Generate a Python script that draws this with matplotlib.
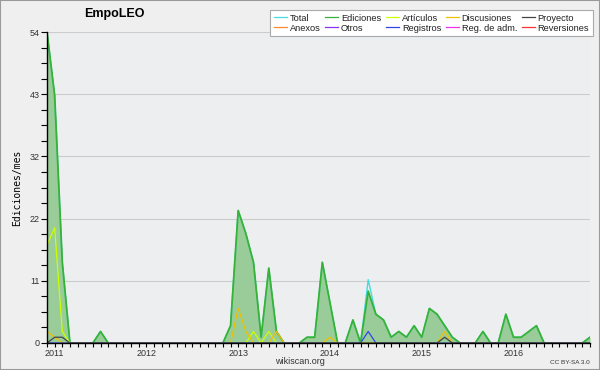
import matplotlib
matplotlib.use("Agg")
import matplotlib.pyplot as plt
from matplotlib.patches import Rectangle
import numpy as np

# monthly values, Jan 2011 .. Dec 2016
ediciones = [54, 43, 14, 0, 0, 0, 0, 2, 0, 0, 0, 0,      # 2011
             0, 0, 0, 0, 0, 0, 0, 0, 0, 0, 0, 0,         # 2012
             3, 23, 19, 14, 1, 13, 2, 0, 0, 0, 1, 1,     # 2013
             14, 7, 0, 0, 4, 0, 9, 5, 4, 1, 2, 1,        # 2014
             3, 1, 6, 5, 3, 1, 0, 0, 0, 2, 0, 0,         # 2015
             5, 1, 1, 2, 3, 0, 0, 0, 0, 0, 0, 1]         # 2016
articulos = [17, 20, 2, 0, 0, 0, 0, 0, 0, 0, 0, 0,
             0, 0, 0, 0, 0, 0, 0, 0, 0, 0, 0, 0,
             0, 0, 0, 2, 0, 2, 0, 0, 0, 0, 0, 0,
             0, 0, 0, 0, 0, 0, 0, 0, 0, 0, 0, 0,
             0, 0, 0, 0, 0, 0, 0, 0, 0, 0, 0, 0,
             0, 0, 0, 0, 0, 0, 0, 0, 0, 0, 0, 0]
discusiones = [2, 1, 0, 0, 0, 0, 0, 0, 0, 0, 0, 0,
               0, 0, 0, 0, 0, 0, 0, 0, 0, 0, 0, 0,
               0, 6, 2, 0, 0, 0, 2, 0, 0, 0, 0, 0,
               0, 1, 0, 0, 0, 0, 0, 0, 0, 0, 0, 0,
               0, 0, 0, 0, 2, 0, 0, 0, 0, 0, 0, 0,
               0, 0, 0, 0, 0, 0, 0, 0, 0, 0, 0, 0]
proyecto = [0, 1, 1, 0, 0, 0, 0, 0, 0, 0, 0, 0,
            0, 0, 0, 0, 0, 0, 0, 0, 0, 0, 0, 0,
            0, 0, 0, 0, 0, 0, 0, 0, 0, 0, 0, 0,
            0, 0, 0, 0, 0, 0, 0, 0, 0, 0, 0, 0,
            0, 0, 0, 0, 1, 0, 0, 0, 0, 0, 0, 0,
            0, 0, 0, 0, 0, 0, 0, 0, 0, 0, 0, 0]
registros = [0] * 42 + [2] + [0] * 29
zeros = [0] * 72
years = ["2011", "2012", "2013", "2014", "2015", "2016"]
yticks = [0, 11, 22, 32, 43, 54]

total = np.array(ediciones) + np.array(registros)
x = np.arange(len(ediciones))

plt.rcParams["font.family"] = "Liberation Sans"

fig = plt.figure(figsize=(6, 3.7), dpi=100, facecolor="#efefef")
ax = fig.add_axes([47 / 600, 1 - 343 / 370, 543 / 600, 311 / 370])
ax.set_facecolor("#edeef0")

ax.plot(x, total, color="#44dddd", lw=1.0, label="Total", zorder=3)
ax.fill_between(x, ediciones, color="#99cc99", lw=0, zorder=2)
ax.plot(x, ediciones, color="#36b336", lw=1.3, label="Ediciones", zorder=4)
ax.plot(x, articulos, color="#ccff00", lw=0.9, label="Artículos", zorder=5)
ax.plot(x, discusiones, color="#f0c000", lw=0.9, label="Discusiones", zorder=5)
ax.plot(x, proyecto, color="#444444", lw=0.9, label="Proyecto", zorder=6)
ax.plot(x, zeros, color="#ff8833", lw=0.9, label="Anexos", zorder=1)
ax.plot(x, zeros, color="#8833ee", lw=0.9, label="Otros", zorder=1)
ax.plot(x, registros, color="#3344ee", lw=0.9, label="Registros", zorder=5)
ax.plot(x, zeros, color="#ee33ee", lw=0.9, label="Reg. de adm.", zorder=1)
ax.plot(x, zeros, color="#ff3333", lw=0.9, label="Reversiones", zorder=1)

ax.set_xlim(0, 71)
ax.set_ylim(0, 54)

ax.set_yticks(np.linspace(0, 54, 6))
ax.set_yticklabels([str(v) for v in yticks])
ax.set_yticks(np.linspace(0, 54, 21), minor=True)
ax.set_xticks(x)
ax.set_xticklabels([years[i // 12] if i % 12 == 1 else "" for i in x])
ax.tick_params(axis="both", which="both", direction="out", color="black",
               width=0.8, labelsize=6.5, labelcolor="#333333")
ax.tick_params(axis="y", which="both", length=4, pad=1)
ax.tick_params(axis="x", length=3, pad=1)
ax.grid(axis="y", which="major", color="#cccccc", lw=0.8)
ax.set_axisbelow(True)

for s in ["top", "right"]:
    ax.spines[s].set_visible(False)
for s in ["left", "bottom"]:
    ax.spines[s].set_linewidth(1.0)
    ax.spines[s].set_zorder(10)

ax.set_ylabel("Ediciones/mes", family="DejaVu Sans Mono", fontsize=7, labelpad=6)

fig.text(114 / 600, 1 - 14 / 370, "EmpoLEO", fontsize=9, fontweight="bold",
         ha="center", va="center")
fig.text(300 / 600, 1 - 361 / 370, "wikiscan.org", fontsize=6.5, ha="center",
         va="center", color="#333333")
fig.text(590 / 600, 1 - 362 / 370, "CC BY-SA 3.0", fontsize=4.6, ha="right",
         va="center", color="#333333")

h, l = ax.get_legend_handles_labels()
order = ["Total", "Anexos", "Ediciones", "Otros", "Artículos", "Registros",
         "Discusiones", "Reg. de adm.", "Proyecto", "Reversiones"]
hl = dict(zip(l, h))
leg = fig.legend([hl[k] for k in order], order, ncol=5, fontsize=6.7,
                 loc="upper right", bbox_to_anchor=(593 / 600, 1 - 10 / 370),
                 frameon=True, fancybox=False, edgecolor="#aaaaaa",
                 facecolor="white", framealpha=1, handlelength=1.4,
                 handletextpad=0.3, columnspacing=0.5, labelspacing=0.1,
                 borderpad=0.4, borderaxespad=0)
leg.get_frame().set_linewidth(0.8)
for line in leg.get_lines():
    line.set_linewidth(0.9)
for t in leg.get_texts():
    t.set_color("#222222")

fig.patches.append(Rectangle((0, 0), 1, 1, transform=fig.transFigure,
                             fill=False, edgecolor="#999999", lw=1.5))

fig.savefig("out.png", dpi=100, facecolor=fig.get_facecolor())
